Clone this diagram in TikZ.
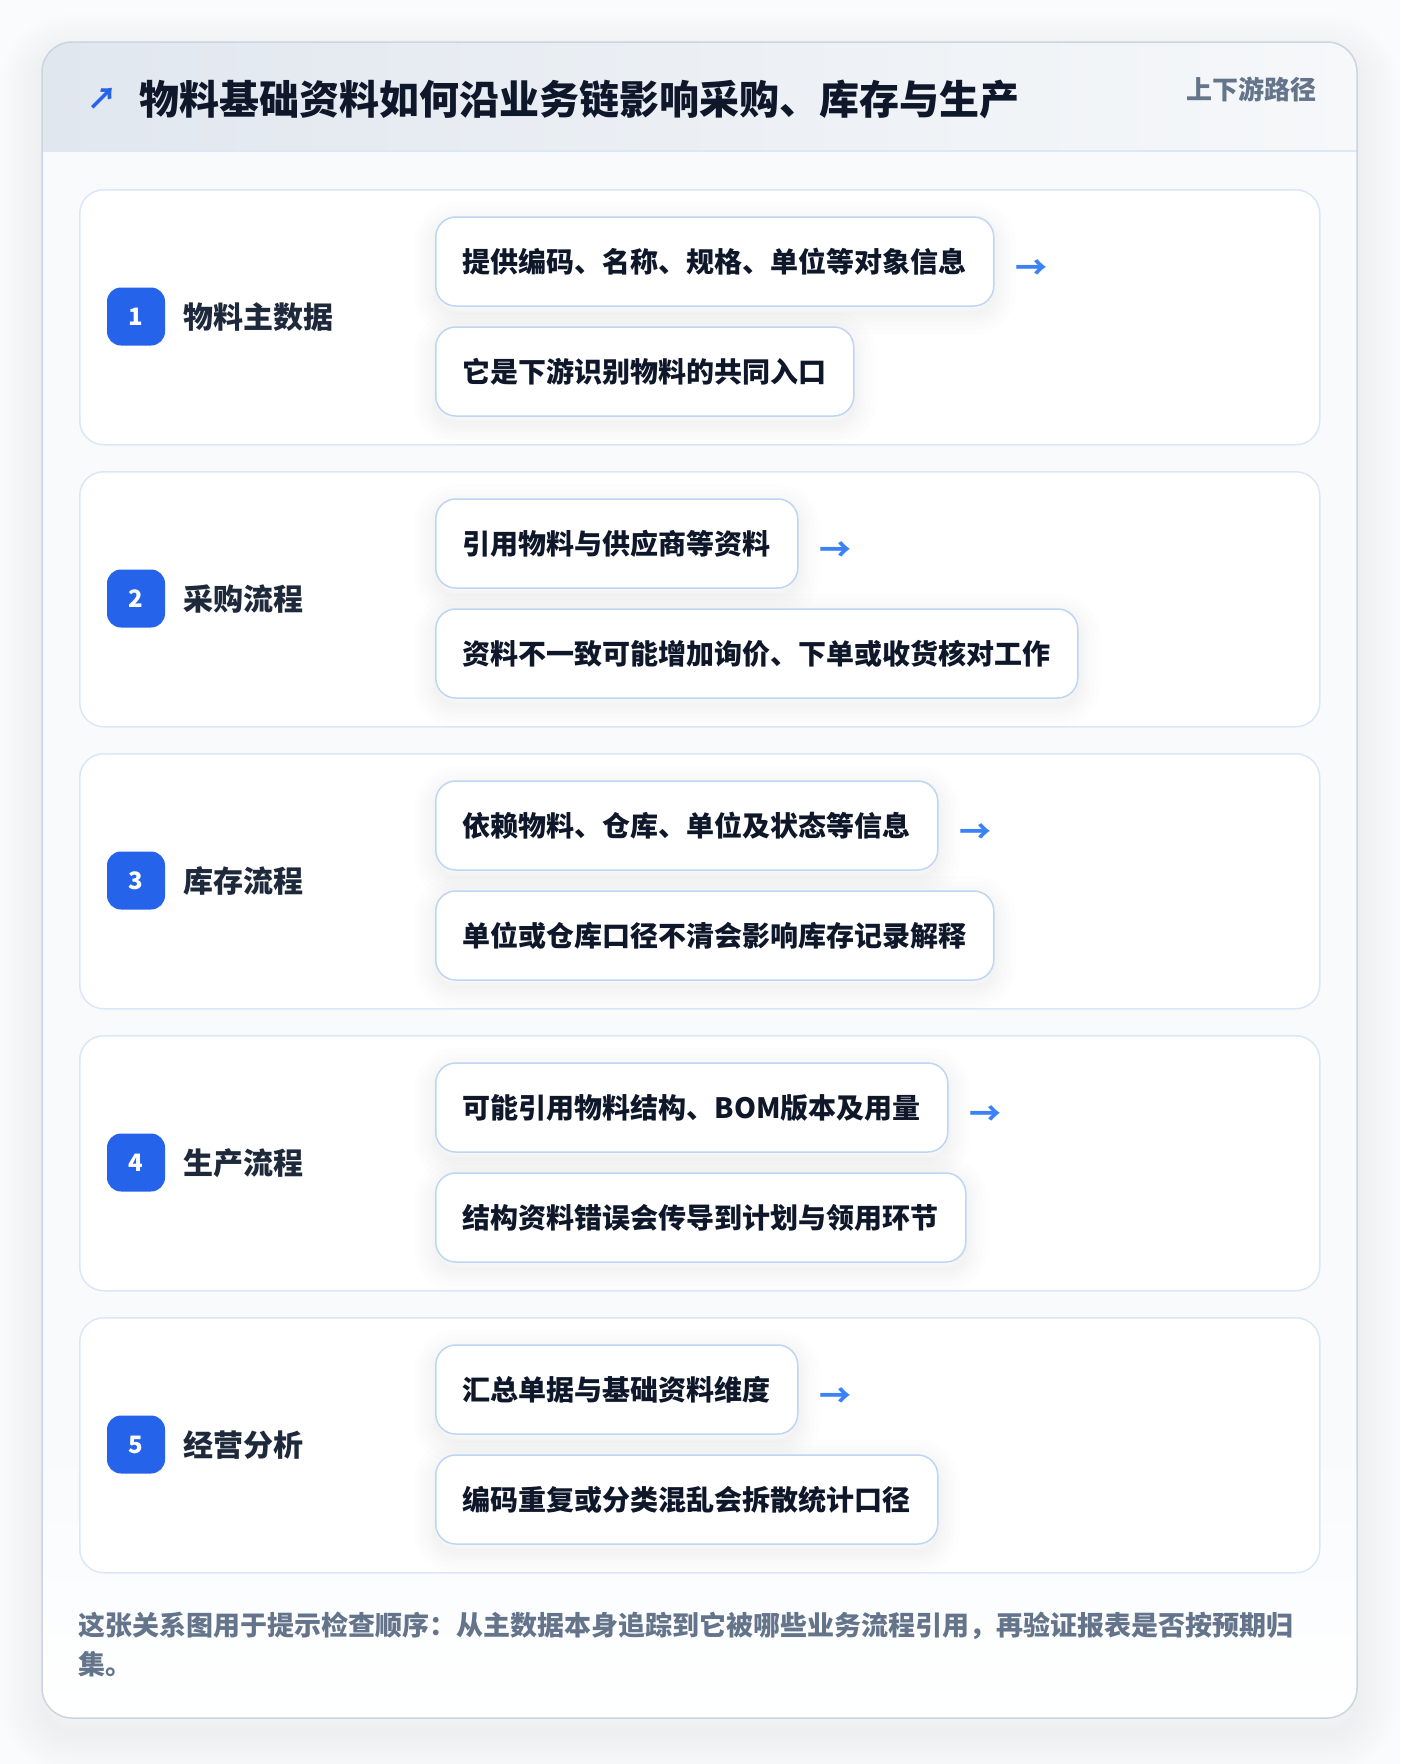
\documentclass[tikz,border=0pt]{standalone}
\usepackage{fontspec}
\setmainfont{Noto Sans CJK SC}
\usetikzlibrary{shadows}
\definecolor{pagebg}{HTML}{FAFBFC}
\definecolor{cardborder}{HTML}{CBD5E1}
\definecolor{bodybg}{HTML}{F8FAFC}
\definecolor{hdrL}{HTML}{E1E7EF}
\definecolor{hdrR}{HTML}{F6F8FA}
\definecolor{hdrline}{HTML}{DCE8F6}
\definecolor{panelborder}{HTML}{DBE7F7}
\definecolor{boxborder}{HTML}{BED6F4}
\definecolor{badgeblue}{HTML}{2563EB}
\definecolor{ink}{HTML}{0F172A}
\definecolor{labelink}{HTML}{1E293B}
\definecolor{muted}{HTML}{64748B}
\definecolor{arrowblue}{HTML}{3B82F6}
\tikzset{
  panelbox/.style={draw=panelborder, line width=1.5pt, fill=white, rounded corners=24pt,
    minimum width=1240pt, minimum height=255pt, anchor=north west, inner sep=0pt},
  badgebox/.style={fill=badgeblue, rounded corners=14pt, minimum width=58pt, minimum height=58pt,
    inner sep=0pt, text=white, font=\fontsize{24pt}{28pt}\selectfont\bfseries},
  steplabel/.style={anchor=west, inner sep=0pt, text=labelink, font=\fontsize{30pt}{36pt}\selectfont\bfseries},
  softlayer/.style={general shadow={shadow xshift=0pt, shadow yshift=-7pt, draw=black, draw opacity=0.008, line width=#1}},
  subbox/.style={draw=boxborder, line width=1.5pt, fill=white, rounded corners=20pt,
    minimum height=89pt, inner xsep=27pt, inner ysep=0pt, anchor=west, text=ink,
    font=\fontsize{28pt}{34pt}\selectfont\bfseries,
    softlayer=44pt, softlayer=34pt, softlayer=25pt, softlayer=17pt, softlayer=10pt, softlayer=4pt},
  flowarrow/.style={anchor=west, inner sep=0pt, text=arrowblue, font=\fontsize{32pt}{36pt}\selectfont\bfseries},
}
\begin{document}
\begin{tikzpicture}[x=1pt,y=-1pt]
\useasboundingbox (0,0) rectangle (1400,1764);
\fill[pagebg] (0,0) rectangle (1400,1764);
% soft card shadow
\foreach \i in {1,...,12} {
  \draw[black, opacity=0.0055, line width=\i*7pt, rounded corners=30pt] (42,56) rectangle (1357,1732);
}
% card
\fill[bodybg, rounded corners=30pt] (42,42) rectangle (1357,1718);
\begin{scope}
  \clip[rounded corners=30pt] (42,42) rectangle (1357,1718);
  \shade[left color=hdrL, right color=hdrR] (42,42) rectangle (1357,151);
  \shade[top color=bodybg, bottom color=white] (42,1440) rectangle (1357,1718);
\end{scope}
\draw[hdrline, line width=1.5pt] (42,151) -- (1357,151);
\draw[cardborder, line width=1.5pt, rounded corners=30pt] (42,42) rectangle (1357,1718);

% header
\node[inner sep=0pt, text=badgeblue, font=\fontsize{30pt}{34pt}\selectfont\bfseries] (hdrarrow) at (102,99) {↗};
\node[anchor=west, inner sep=0pt, text=ink, font=\fontsize{40pt}{46pt}\selectfont\bfseries] (title) at (139,99) {物料基础资料如何沿业务链影响采购、库存与生产};
\node[anchor=east, inner sep=0pt, text=muted, font=\fontsize{26pt}{30pt}\selectfont\bfseries] (tag) at (1317,89) {上下游路径};

% panels
\node[panelbox] (p1) at (79,189) {};
\node[panelbox] (p2) at (79,471) {};
\node[panelbox] (p3) at (79,753) {};
\node[panelbox] (p4) at (79,1035) {};
\node[panelbox] (p5) at (79,1317) {};

% badges and labels
\node[badgebox] (n1) at (136,316.5) {1};
\node[steplabel] (l1) at (183,317.5) {物料主数据};
\node[badgebox] (n2) at (136,598.5) {2};
\node[steplabel] (l2) at (183,599.5) {采购流程};
\node[badgebox] (n3) at (136,880.5) {3};
\node[steplabel] (l3) at (183,881.5) {库存流程};
\node[badgebox] (n4) at (136,1162.5) {4};
\node[steplabel] (l4) at (183,1163.5) {生产流程};
\node[badgebox] (n5) at (136,1444.5) {5};
\node[steplabel] (l5) at (183,1445.5) {经营分析};

% sub boxes
\node[subbox] (b11) at (435,261.5) {提供编码、名称、规格、单位等对象信息};
\node[subbox] (b12) at (435,371.5) {它是下游识别物料的共同入口};
\node[subbox] (b21) at (435,543.5) {引用物料与供应商等资料};
\node[subbox] (b22) at (435,653.5) {资料不一致可能增加询价、下单或收货核对工作};
\node[subbox] (b31) at (435,825.5) {依赖物料、仓库、单位及状态等信息};
\node[subbox] (b32) at (435,935.5) {单位或仓库口径不清会影响库存记录解释};
\node[subbox] (b41) at (435,1107.5) {可能引用物料结构、BOM版本及用量};
\node[subbox] (b42) at (435,1217.5) {结构资料错误会传导到计划与领用环节};
\node[subbox] (b51) at (435,1389.5) {汇总单据与基础资料维度};
\node[subbox] (b52) at (435,1499.5) {编码重复或分类混乱会拆散统计口径};

% arrows
\node[flowarrow] (a1) at ([xshift=21pt,yshift=-8pt]b11.east) {→};
\node[flowarrow] (a2) at ([xshift=21pt,yshift=-8pt]b21.east) {→};
\node[flowarrow] (a3) at ([xshift=21pt,yshift=-8pt]b31.east) {→};
\node[flowarrow] (a4) at ([xshift=21pt,yshift=-8pt]b41.east) {→};
\node[flowarrow] (a5) at ([xshift=21pt,yshift=-8pt]b51.east) {→};

% footer
\node[anchor=west, align=left, inner sep=0pt, text=muted, font=\fontsize{27pt}{39pt}\selectfont\bfseries] (foot) at (78,1645) {这张关系图用于提示检查顺序：从主数据本身追踪到它被哪些业务流程引用，再验证报表是否按预期归\\集。};
\end{tikzpicture}
\end{document}
